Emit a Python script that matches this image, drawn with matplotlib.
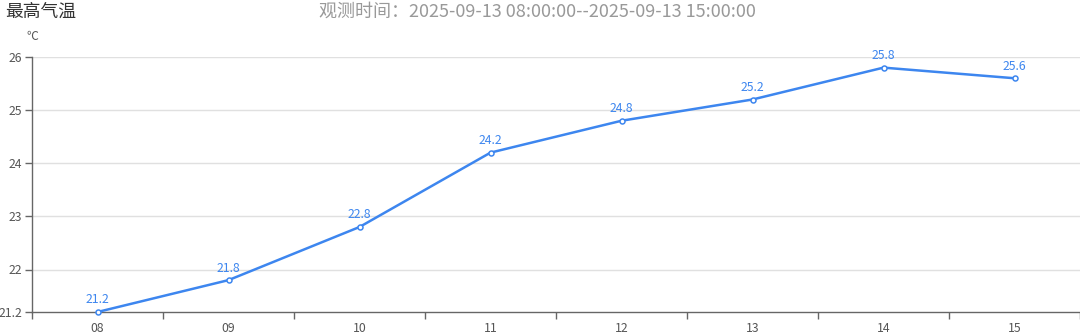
import matplotlib.pyplot as plt

plt.rcParams['font.family'] = ['Noto Sans CJK SC', 'DejaVu Sans']

hours = ['08', '09', '10', '11', '12', '13', '14', '15']
temps = [21.2, 21.8, 22.8, 24.2, 24.8, 25.2, 25.8, 25.6]
yticks = [21.2, 22, 23, 24, 25, 26]

line_color = '#3d86ef'

fig = plt.figure(figsize=(10.8, 3.35), dpi=100)
ax = fig.add_axes([32 / 1080, 1 - 312 / 335, 1 - 32 / 1080, (312 - 57) / 335])

x = list(range(len(hours)))
ax.plot(x, temps, color=line_color, lw=1.8, marker='o', ms=3.6,
        mfc='white', mec=line_color, mew=1.1, zorder=3, clip_on=False)
for xi, t in zip(x, temps):
    ax.annotate(f'{t:g}', (xi, t), xytext=(0, 4), textcoords='offset points',
                ha='center', va='bottom', color=line_color, fontsize=8.8)

ax.set_xlim(-0.5, len(hours) - 0.5)
ax.set_ylim(21.2, 26)
ax.set_yticks(yticks)
ax.set_yticklabels([f'{v:g}' for v in yticks])
ax.set_xticks(x)
ax.set_xticklabels(hours)
ax.set_xticks([i - 0.5 for i in range(len(hours) + 1)], minor=True)
ax.tick_params(axis='x', which='major', length=0, pad=7, labelsize=8.8, labelcolor='#555555')
ax.tick_params(axis='x', which='minor', length=5, color='#666666', width=1)
ax.tick_params(axis='y', length=5, color='#666666', width=1, labelsize=8.8,
               labelcolor='#555555', pad=2)

for v in yticks[1:]:
    ax.axhline(v, color='#e0e0e0', lw=1, zorder=0)

for s in ['top', 'right']:
    ax.spines[s].set_visible(False)
for s in ['left', 'bottom']:
    ax.spines[s].set_color('#666666')
    ax.spines[s].set_linewidth(1)

fig.text(5 / 1080, 1 - 12 / 335, '最高气温', fontsize=12.8, color='#333333', va='center', ha='left')
fig.text(537 / 1080, 1 - 12 / 335, '观测时间：2025-09-13 08:00:00--2025-09-13 15:00:00',
         fontsize=13, color='#999999', va='center', ha='center')
fig.text(32 / 1080, 1 - 36 / 335, '℃', fontsize=8.5, color='#555555', va='center', ha='center')

fig.savefig('out.png', dpi=100)
